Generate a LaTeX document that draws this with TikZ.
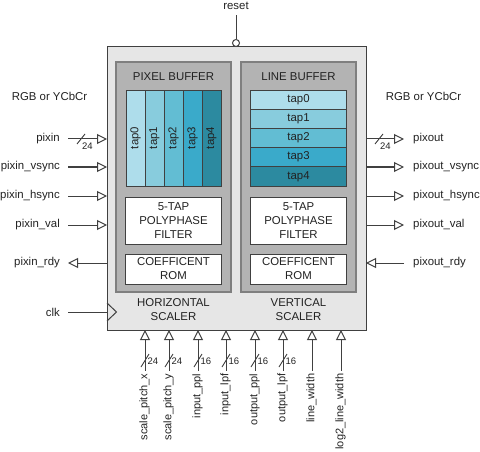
\documentclass[tikz,border=0pt]{standalone}
\usepackage{fontspec}
\setmainfont{Liberation Sans}
\usetikzlibrary{arrows.meta}
\definecolor{coreFill}{HTML}{E6E6E6}
\definecolor{bufFill}{HTML}{B3B3B3}
\definecolor{bufLine}{HTML}{7F7F7F}
\definecolor{wireCol}{HTML}{404040}
\definecolor{txtCol}{HTML}{222222}
\definecolor{tapA}{HTML}{AEDDEB}
\definecolor{tapB}{HTML}{88CCDD}
\definecolor{tapC}{HTML}{62BDD3}
\definecolor{tapD}{HTML}{3AAACA}
\definecolor{tapE}{HTML}{2C8AA0}
\begin{document}
\begin{tikzpicture}[x=1pt,y=-1pt,
  txt/.style={font=\fontsize{11.4}{14}\selectfont, text=txtCol, inner sep=0pt},
  vtxt/.style={font=\fontsize{11}{14}\selectfont, text=txtCol, inner sep=0pt},
  bustxt/.style={font=\fontsize{9.5}{11}\selectfont, text=txtCol, inner sep=0pt},
  box/.style={inner sep=0pt, outer sep=0pt},
  corebox/.style={box, draw=wireCol, line width=1pt, fill=coreFill},
  bufbox/.style={box, draw=bufLine, line width=1.6pt, fill=bufFill},
  tapbox/.style={box, draw=wireCol, line width=0.9pt},
  whitebox/.style={box, draw=wireCol, line width=0.9pt, fill=white, align=center,
     font=\fontsize{11.4}{14}\selectfont, text=txtCol},
  wire/.style={draw=wireCol, line width=1pt},
  tipin/.style={wire, -{Triangle[open,length=10pt,width=10pt,line width=1pt]}},
  slash/.style={draw=wireCol, line width=0.9pt},
]
\useasboundingbox (0,0) rectangle (480,452);

% main block
\node[corebox, minimum width=259pt, minimum height=283pt] (core) at (236.5,188.5) {};

% buffers
\node[bufbox, minimum width=115pt, minimum height=230pt] (pbuf) at (173.5,177) {};
\node[bufbox, minimum width=115pt, minimum height=230pt] (lbuf) at (298.5,177) {};
\node[txt] (ptitle) at (173.5,77) {PIXEL BUFFER};
\node[txt] (ltitle) at (298.5,77) {LINE BUFFER};

% pixel buffer taps (columns)
\foreach \i/\c/\x in {0/tapA/135.5,1/tapB/154.5,2/tapC/173.5,3/tapD/192.5,4/tapE/211.5}{
  \node[tapbox, fill=\c, minimum width=19pt, minimum height=96pt] (ptap\i) at (\x,138) {};
  \node[txt, rotate=90] (ptapl\i) at (\x,138) {tap\i};
}
% line buffer taps (rows)
\foreach \i/\c/\y in {0/tapA/99.6,1/tapB/118.8,2/tapC/138,3/tapD/157.2,4/tapE/176.4}{
  \node[tapbox, fill=\c, minimum width=96pt, minimum height=19.2pt] (ltap\i) at (298.5,\y) {};
  \node[txt] (ltapl\i) at (298.5,\y) {tap\i};
}

% filter and ROM boxes
\node[whitebox, minimum width=96pt, minimum height=47pt] (pfilt) at (173.5,220.5) {5-TAP\\POLYPHASE\\FILTER};
\node[whitebox, minimum width=96pt, minimum height=47pt] (lfilt) at (298.5,220.5) {5-TAP\\POLYPHASE\\FILTER};
\node[whitebox, minimum width=96pt, minimum height=30pt] (prom) at (173.5,269) {COEFFICENT\\ROM};
\node[whitebox, minimum width=96pt, minimum height=30pt] (lrom) at (298.5,269) {COEFFICENT\\ROM};

\node[txt, align=center] (hsc) at (173.5,310) {HORIZONTAL\\SCALER};
\node[txt, align=center] (vsc) at (298.5,310) {VERTICAL\\SCALER};

% reset
\node[draw=wireCol, line width=1pt, fill=white, circle, inner sep=0pt, minimum size=7pt] (rstc) at (236,43) {};
\node[txt] (rstl) at (236,6) {reset};
\draw[wire] (rstc.north) -- (236,15);

% RGB labels
\node[txt] (rgbl) at (49.5,96) {RGB or YCbCr};
\node[txt] (rgbr) at (423.5,96) {RGB or YCbCr};

% left pins
\foreach \n/\l/\y in {pixin/pixin/139, pvs/pixin\_vsync/167, phs/pixin\_hsync/196, pval/pixin\_val/225}{
  \node[txt, anchor=east] (L\n) at (60,\y) {\l};
  \coordinate (A\n) at (68,\y);
  \coordinate (B\n) at (core.west |- A\n);
  \draw[tipin] (A\n) -- (B\n);
}
\node[txt, anchor=east] (Lprdy) at (60,263) {pixin\_rdy};
\coordinate (Aprdy) at (68,263);
\coordinate (Bprdy) at (core.west |- Aprdy);
\draw[tipin] (Bprdy) -- (Aprdy);
\draw[slash] (77,144) -- (85,134);
\node[bustxt, anchor=west] (bpixin) at (82,146.5) {24};

% clk
\node[txt, anchor=east] (Lclk) at (60,312) {clk};
\coordinate (Aclk) at (68,312);
\coordinate (Bclk) at (core.west |- Aclk);
\draw[wire] (Aclk) -- (Bclk);
\draw[wire, line join=miter] (107,303) -- (116.5,312) -- (107,321);

% right pins
\foreach \n/\l/\y in {pout/pixout/139, ovs/pixout\_vsync/167, ohs/pixout\_hsync/196, oval/pixout\_val/225}{
  \node[txt, anchor=west] (R\n) at (413,\y) {\l};
  \coordinate (C\n) at (404,\y);
  \coordinate (D\n) at (core.east |- C\n);
  \draw[tipin] (D\n) -- (C\n);
}
\node[txt, anchor=west] (Rordy) at (413,263) {pixout\_rdy};
\coordinate (Cordy) at (404,263);
\coordinate (Dordy) at (core.east |- Cordy);
\draw[tipin] (Cordy) -- (Dordy);
\draw[slash] (375,144) -- (383,134);
\node[bustxt, anchor=west] (bpout) at (380,146.5) {24};

% bottom pins
\foreach \n/\l/\x in {spx/scale\_pitch\_x/145, spy/scale\_pitch\_y/169, ippl/input\_ppl/198, ilpf/input\_lpf/226, oppl/output\_ppl/255, olpf/output\_lpf/283, lw/line\_width/312, llw/log2\_line\_width/341}{
  \node[vtxt, rotate=90, anchor=east] (T\n) at (\x-0.5,373.5) {\l};
  \coordinate (E\n) at (\x,370.5);
  \coordinate (F\n) at (E\n |- core.south);
  \draw[tipin] (E\n) -- (F\n);
}
\foreach \n/\w/\x in {spx/24/145, spy/24/169, ippl/16/198, ilpf/16/226, oppl/16/255, olpf/16/283}{
  \draw[slash] (\x-4,367) -- (\x+4,354);
  \node[bustxt, anchor=west] (W\n) at (\x+2.5,361.5) {\w};
}
\end{tikzpicture}
\end{document}
